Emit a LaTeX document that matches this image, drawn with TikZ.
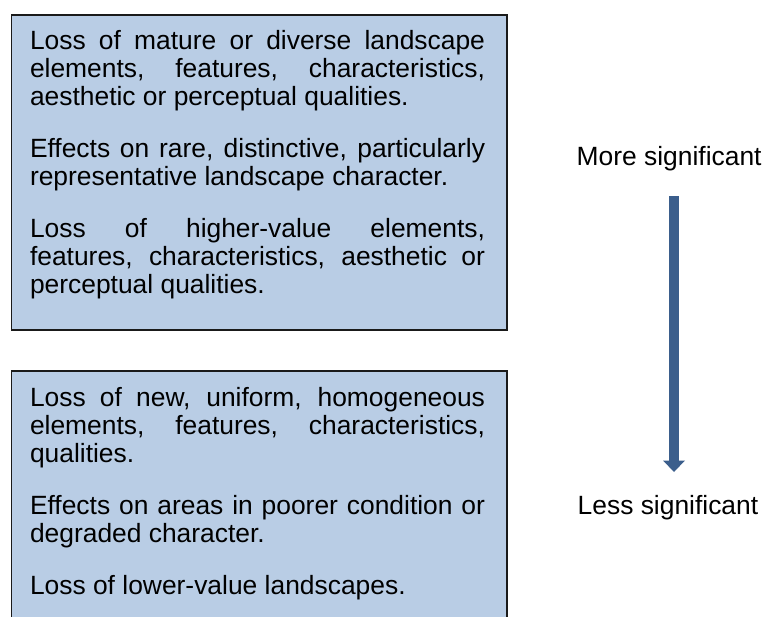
\documentclass[tikz,border=0pt]{standalone}
\usepackage{fontspec}
\setmainfont{Liberation Sans}
\usetikzlibrary{arrows.meta}
\definecolor{boxfill}{HTML}{B9CDE5}
\definecolor{arrowblue}{HTML}{3B5E8C}
\definecolor{boxline}{HTML}{1A1A1A}
\hbadness=10000
\hyphenpenalty=10000
\exhyphenpenalty=10000
\begin{document}
\begin{tikzpicture}[x=1pt,y=-1pt,
  box/.style={draw=boxline, line width=1.5pt, fill=boxfill, rectangle, inner sep=0pt, anchor=north west, minimum width=495.5pt},
  txt/.style={anchor=base west, inner sep=0pt, text width=455pt, align=justify,
    font=\fontsize{26.4}{28.4}\selectfont},
  lbl/.style={anchor=base west, inner sep=0pt, font=\fontsize{26.4}{28.4}\selectfont},
  sigarrow/.style={draw=arrowblue, line width=10pt, line cap=butt,
    -{Triangle[width=22pt,length=11.5pt,line width=0pt]}},
]
\clip (0,0) rectangle (763,616);

% top box
\node[box, minimum height=315pt] (topbox) at (10.5,14) {};
\node[txt] (toptext) at (29.8,49) {\setlength{\parskip}{23pt}%
Loss of mature or diverse landscape\linebreak elements, features, characteristics,\linebreak aesthetic or perceptual qualities.\par
Effects on rare, distinctive, particularly\linebreak representative landscape character.\par
Loss of higher-value elements,\linebreak features, characteristics, aesthetic or\linebreak perceptual qualities.\par};

% bottom box
\node[box, minimum height=260pt] (botbox) at (10.5,370) {};
\node[txt] (bottext) at (29.8,406) {\setlength{\parskip}{23pt}%
Loss of new, uniform, homogeneous\linebreak elements, features, characteristics,\linebreak qualities.\par
Effects on areas in poorer condition or\linebreak degraded character.\par
Loss of lower-value landscapes.\par};

% labels and arrow
\node[lbl] (more) at (576.5,165) {More significant};
\node[lbl] (less) at (577.5,514) {Less significant};
\coordinate (arrtop) at (674,196);
\coordinate (arrtip) at (674,472);
\draw[sigarrow] (arrtop) -- (arrtip);
\end{tikzpicture}
\end{document}
